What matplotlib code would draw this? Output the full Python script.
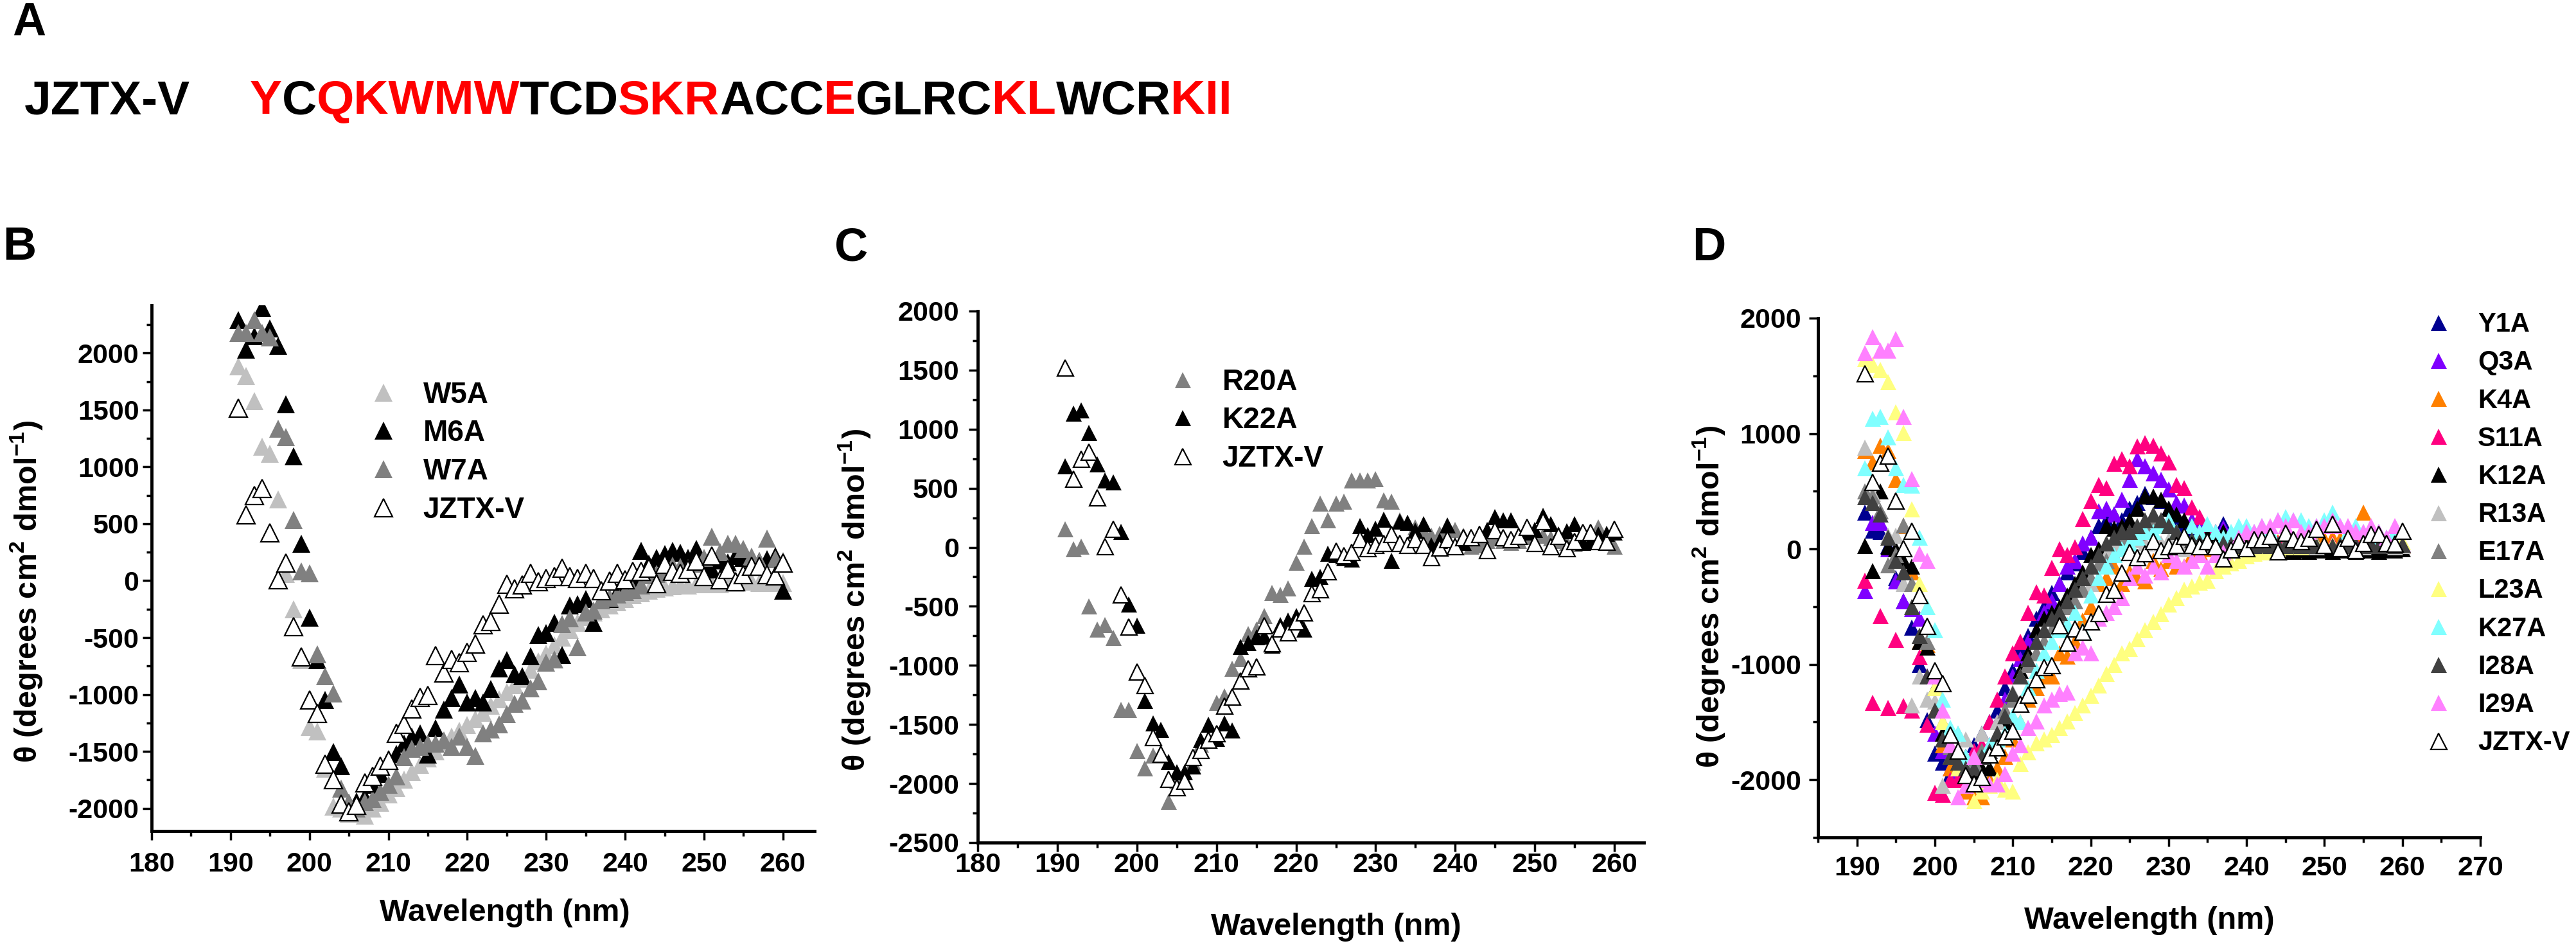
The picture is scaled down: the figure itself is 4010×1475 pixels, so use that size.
import numpy as np
import matplotlib
matplotlib.use('Agg')
import matplotlib.pyplot as plt
from matplotlib.ticker import MultipleLocator
from matplotlib.font_manager import FontProperties, findfont, get_font

plt.rcParams['font.family'] = ['Liberation Sans', 'DejaVu Sans']
plt.rcParams['font.weight'] = 'bold'
plt.rcParams['axes.unicode_minus'] = False
plt.rcParams['mathtext.fontset'] = 'custom'
plt.rcParams['mathtext.rm'] = 'Liberation Sans:bold'
plt.rcParams['mathtext.bf'] = 'Liberation Sans:bold'
plt.rcParams['mathtext.it'] = 'Liberation Sans:bold'

# ---------------- data ----------------
wavelength = list(range(191, 261))  # nm

JZTX_V = [1519, 581, 747, 808, 420, 6, 157, -402, -669, -1050,
          -1165, -1610, -1749, -1961, -2030, -1976, -1779, -1719, -1628, -1576,
          -1340, -1265, -1129, -1023, -1008, -660, -811, -690, -720, -630,
          -554, -387, -357, -206, -30, -70, -39, 67, -9, 21,
          36, 112, 36, 21, 67, 21, -85, -3, 67, 6,
          82, 82, 112, -24, 142, 82, 67, 97, 172, 36,
          218, 6, 97, -9, 51, 127, 127, 51, 45, 157]

# panel B
W5A = [1882, 1800, 1579, 1177, 1116, 717, 60, -251, -700, -1286,
       -1325, -1650, -1985, -2000, -2050, -2050, -2066, -2000, -1950, -1880,
       -1820, -1750, -1680, -1620, -1560, -1500, -1420, -1370, -1320, -1270,
       -1220, -1160, -1100, -1040, -980, -920, -860, -780, -710, -640,
       -570, -500, -430, -370, -320, -280, -250, -220, -190, -160,
       -130, -110, -90, -70, -60, -50, -40, -40, -30, -30,
       -20, -30, -20, -20, -10, -10, -20, -10, -20, -20]
M6A = [2290, 2033, 2150, 2400, 2215, 2063, 1549, 1095, 324, -327,
       -700, -1045, -1507, -1628, -1950, -1940, -1900, -1795, -1700, -1567,
       -1520, -1430, -1370, -1340, -1530, -1294, -1133, -1032, -911, -1073,
       -1032, -1073, -952, -770, -700, -820, -840, -665, -480, -460,
       -370, -655, -220, -206, -160, -370, -170, -160, -100, -60,
       20, 260, 150, 200, 233, 263, 248, 200, 278, 150,
       100, 180, 160, 220, 200, 150, 170, 190, 218, -85]
W7A = [2175, 2175, 2290, 2175, 2140, 1337, 1262, 536, 82, 67,
       -644, -841, -992, -1825, -1950, -2000, -1946, -1915, -1855, -1794,
       -1719, -1552, -1477, -1460, -1431, -1431, -1401, -1461, -1370, -1461,
       -1537, -1340, -1310, -1265, -1174, -1083, -1053, -947, -886, -720,
       -690, -380, -330, -584, -280, -260, -170, -150, -120, -100,
       -80, -40, 50, 60, 80, 130, 120, 110, 150, 200,
       384, 250, 324, 324, 278, 210, 170, 369, 190, 170]

# panel C
R20A = [154, -13, 7, -498, -693, -654, -763, -1373, -1373, -1723,
        -1871, -1762, -1762, -2150, -1976, -1957, -1820, -1670, -1627, -1316,
        -1257, -1024, -946, -733, -693, -577, -383, -402, -343, -130,
        7, 181, 375, 231, 375, 387, 569, 569, 569, 581,
        400, 390, 230, 210, 170, 140, 100, 120, 160, 150,
        100, 10, 20, 60, 80, 60, 40, 60, 90, 110,
        100, 80, 60, 40, 30, 40, 60, 170, 80, 10]
K22A = [690, 1134, 1161, 970, 706, 570, 551, 135, -479, -662,
        -1296, -1490, -1540, -1812, -1900, -1900, -1852, -1627, -1498, -1618,
        -1490, -1548, -841, -810, -760, -751, -829, -654, -615, -577,
        -693, -266, -247, -52, -60, -91, -102, 181, 104, 162,
        239, -110, 220, 208, 143, 201, 20, 60, 190, 20,
        40, 90, 120, 150, 260, 230, 230, 100, 130, 150,
        270, 200, 110, 140, 200, 40, 50, 110, 120, 130]

# panel D
Y1A = [320, 160, 150, 30, -250, -450, -680, -1000, -1480, -1770,
       -1850, -1950, -1900, -1800, -1700, -1600, -1500, -1400, -1200, -1050,
       -850, -750, -600, -500, -380, -300, -200, -120, -20, 100,
       200, 250, 300, 250, 350, 400, 480, 450, 420, 350,
       250, 200, 150, 100, 80, 60, 220, 100, 60, 40,
       30, 20, 40, 30, 20, 40, 30, 20, 40, 30,
       20, 40, 30, 20, 40, 30, 20, 30, 40, 30]
Q3A = [-360, 230, 230, 0, -280, -450, -520, -600, -1100, -1600,
       -1750, -1900, -1950, -1950, -1850, -1800, -1700, -1500, -1300, -1100,
       -950, -800, -700, -550, -450, -300, -150, -100, 50, 100,
       330, 350, 300, 430, 600, 780, 720, 660, 600, 520,
       400, 380, 250, 200, 150, 100, 185, 100, 80, 60,
       50, 60, 40, 50, 60, 40, 50, 60, 50, 40,
       50, 60, 40, 50, 60, 50, 40, 60, 50, 40]
K4A = [850, 750, 900, 850, 600, 200, -200, -800, -830, -1400,
       -1700, -1900, -2000, -2100, -2150, -2150, -2000, -1900, -1800, -1650,
       -1500, -1300, -1200, -1100, -1100, -900, -930, -800, -620, -500,
       -300, -250, -150, -300, -200, -250, -280, -100, -170, -100,
       -150, -150, -50, -30, 0, 50, 60, 40, 50, 60,
       80, 70, 90, 60, 80, 70, 90, 80, 100, 90,
       100, 90, 120, 110, 320, 100, 80, 60, 40, 30]
S11A = [-270, -1330, -580, -1375, -786, -1360, -1400, -933, -1520, -2110,
        -2125, -2000, -2000, -1900, -1750, -1700, -1500, -1300, -1100, -900,
        -800, -550, -370, -400, -160, 0, -50, 20, 260, 420,
        560, 530, 740, 780, 720, 890, 920, 900, 830, 750,
        560, 530, 360, 280, 200, 150, 120, 100, 80, 60,
        50, 60, 40, 50, 60, 40, 50, 60, 50, 40,
        50, 40, 60, 50, 40, 50, 60, 40, 50, 40]
K12A = [30, -190, 500, 20, 0, -100, -150, -800, -850, -1200,
        -1600, -1800, -1850, -1950, -1950, -1900, -1900, -1700, -1500, -1300,
        -1050, -900, -700, -600, -550, -500, -400, -300, -200, -50,
        0, 200, 180, 200, 250, 350, 460, 460, 430, 350,
        300, 250, 200, 150, 120, 100, 150, 130, 50, 0,
        -10, -20, -10, -20, -10, -20, -10, -20, -10, -10,
        -20, -10, -10, -20, -10, -10, -20, -10, -10, 0]
R13A = [880, 480, 330, 120, 120, -300, -1350, -1100, -1300, -1320,
        -2050, -1800, -1600, -1650, -1900, -1600, -1700, -1500, -1400, -1240,
        -1100, -1000, -900, -800, -700, -650, -500, -450, -350, -300,
        -150, -50, 0, 50, 20, 80, 50, 60, 50, 80,
        60, 0, 20, 30, 20, 30, 20, 30, 20, 30,
        20, 30, 20, 30, 40, 30, 20, 30, 20, 30,
        40, 30, 20, 30, 20, 30, 40, 30, 20, 30]
E17A = [500, 455, 330, -141, -50, 205, -300, -749, -800, -1200,
        -1500, -1713, -1900, -1800, -1850, -1750, -1750, -1600, -1400, -1300,
        -1100, -1000, -900, -800, -700, -600, -500, -450, -350, -250,
        -130, -100, -50, 100, 120, 145, 200, 272, 250, 200,
        150, 100, 80, 60, 50, 40, 50, 40, 30, 40,
        50, 40, 30, 40, 50, 40, 30, 40, 50, 40,
        30, 40, 50, 40, 30, 40, 50, 40, 30, 40]
L23A = [1650, 1600, 1554, 1451, 1186, 1010, 347, -300, -500, -1200,
        -1500, -1700, -1900, -2050, -2180, -2100, -2050, -2000, -2080, -2100,
        -1860, -1760, -1680, -1650, -1610, -1550, -1490, -1420, -1350, -1270,
        -1180, -1080, -1000, -900, -860, -780, -700, -630, -560, -480,
        -420, -350, -320, -290, -270, -190, -150, -120, -100, -60,
        -40, -30, -10, 0, 20, 30, 20, 30, 40, 30,
        40, 40, 50, 30, 40, 60, 50, 40, 50, 60]
K27A = [700, 1130, 1150, 970, 700, 560, 550, 100, -500, -700,
        -1300, -1550, -1600, -1800, -1900, -1800, -1700, -1650, -1600, -1450,
        -1500, -1200, -1050, -900, -800, -700, -650, -550, -700, -400,
        -250, -150, -50, 0, 50, 100, 150, 150, 200, 250,
        150, 100, 200, 150, 220, 150, 100, 150, 200, 200,
        150, 200, 150, 250, 280, 250, 250, 200, 200, 250,
        320, 200, 150, 200, 150, 100, 150, 100, 150, 150]
I28A = [450, 400, 300, 100, -100, -200, -500, -750, -1100, -1400,
        -1650, -1800, -1850, -1900, -1900, -1800, -1750, -1600, -1450, -1250,
        -1100, -950, -800, -700, -600, -550, -450, -350, -250, -150,
        -50, 50, 100, 150, 150, 200, 250, 300, 250, 200,
        150, 100, 80, 60, 50, 40, 50, 40, 30, 40,
        30, 40, 30, 40, 30, 40, 30, 40, 30, 40,
        30, 40, 30, 40, 30, 40, 30, 40, 30, 40]
I29A = [1700, 1840, 1720, 1720, 1820, 1150, 610, -40, -100, -1100,
        -1400, -1700, -2150, -2050, -1800, -2000, -2040, -2040, -1950, -1770,
        -1700, -1550, -1490, -1350, -1300, -1250, -1240, -900, -850, -900,
        -600, -550, -500, -420, -250, -150, -230, -150, -200, -50,
        -100, -150, -100, -50, -150, -50, -30, 0, 100, 150,
        150, 200, 200, 250, 200, 250, 150, 150, 200, 200,
        250, 200, 200, 150, 150, 200, 150, 100, 200, 150]

panelB_series = [('W5A', W5A, '#C0C0C0'), ('M6A', M6A, '#000000'),
                 ('W7A', W7A, '#808080'), ('JZTX-V', JZTX_V, None)]
panelC_series = [('R20A', R20A, '#808080'), ('K22A', K22A, '#000000'),
                 ('JZTX-V', JZTX_V, None)]
panelD_series = [('Y1A', Y1A, '#000090'), ('Q3A', Q3A, '#8000FF'),
                 ('K4A', K4A, '#FF8000'), ('S11A', S11A, '#FF0080'),
                 ('K12A', K12A, '#000000'), ('R13A', R13A, '#C0C0C0'),
                 ('E17A', E17A, '#808080'), ('L23A', L23A, '#FFFF80'),
                 ('K27A', K27A, '#80FFFF'), ('I28A', I28A, '#404040'),
                 ('I29A', I29A, '#FF80FF'), ('JZTX-V', JZTX_V, None)]

sequence_segments = [('Y', 'red'), ('C', 'black'), ('QKWMW', 'red'),
                     ('TCD', 'black'), ('SKR', 'red'), ('ACC', 'black'),
                     ('E', 'red'), ('GLRC', 'black'), ('KL', 'red'),
                     ('WCR', 'black'), ('KII', 'red')]

# ---------------- figure ----------------
W, H = 4010, 1475
fig = plt.figure(figsize=(W / 100, H / 100), dpi=100)


def px_axes(left, top, right, bottom):
    return fig.add_axes([left / W, 1 - bottom / H, (right - left) / W, (bottom - top) / H])


def style(ax, xlim, ylim, xmaj, xmin, ymaj, ymin, xpad, ypad):
    ax.set_xlim(*xlim)
    ax.set_ylim(*ylim)
    ax.xaxis.set_major_locator(MultipleLocator(xmaj))
    ax.xaxis.set_minor_locator(MultipleLocator(xmin))
    ax.yaxis.set_major_locator(MultipleLocator(ymaj))
    ax.yaxis.set_minor_locator(MultipleLocator(ymin))
    for s in ['top', 'right']:
        ax.spines[s].set_visible(False)
    for s in ['left', 'bottom']:
        ax.spines[s].set_linewidth(3.5)
    ax.tick_params(which='major', direction='out', length=10, width=2.5, labelsize=31)
    ax.tick_params(which='minor', direction='out', length=5.5, width=2.5)
    ax.tick_params(axis='x', which='major', pad=xpad)
    ax.tick_params(axis='y', which='major', pad=ypad)
    for lab in ax.get_xticklabels() + ax.get_yticklabels():
        lab.set_fontweight('bold')


def draw_series(ax, series, ms):
    for name, vals, col in series:
        if col is None:
            ax.plot(wavelength, vals, linestyle='none', marker='^', ms=ms,
                    mfc='white', mec='black', mew=1.6, label=name)
        else:
            ax.plot(wavelength, vals, linestyle='none', marker='^', ms=ms,
                    mfc=col, mec=col, mew=0, label=name)


def labels(ax, xl, yl, xfs=35, yfs=35):
    ax.set_xlabel('Wavelength (nm)', fontsize=xfs, fontweight='bold')
    ax.set_ylabel(r'θ (degrees cm$^{\mathbf{2}}$ dmol$^{\mathbf{-1}}$)', fontsize=yfs, fontweight='bold')
    ax.xaxis.set_label_coords(*xl)
    ax.yaxis.set_label_coords(*yl)
    ax.xaxis.label.set_va('center')
    ax.yaxis.label.set_va('center')


ylab = r'θ (degrees cm$^{\mathbf{2}}$ dmol$^{\mathbf{-1}}$)'

# Panel B
axB = px_axes(236, 475, 1268, 1293)
draw_series(axB, panelB_series, 20)
style(axB, (180, 264), (-2200, 2420), 10, 5, 500, 250, xpad=13, ypad=4)
labels(axB, (0.533, -0.156), (-0.189, 0.456))
axB.legend(loc='upper left', bbox_to_anchor=(0.3275, 0.856), frameon=False,
           borderpad=0, borderaxespad=0, handlelength=1.0, handletextpad=0.85,
           labelspacing=0.34, prop={'size': 33, 'weight': 'bold'}, numpoints=1)

# Panel C
axC = px_axes(1522, 484, 2559, 1311)
draw_series(axC, panelC_series, 18)
style(axC, (180, 263.7), (-2500, 2000), 10, 5, 500, 250, xpad=1, ypad=11)
labels(axC, (0.538, -0.159), (-0.185, 0.457))
axC.legend(loc='upper left', bbox_to_anchor=(0.2854, 0.8925), frameon=False,
           borderpad=0, borderaxespad=0, handlelength=1.0, handletextpad=0.85,
           labelspacing=0.34, prop={'size': 33, 'weight': 'bold'}, numpoints=1)

# Panel D
axD = px_axes(2830, 495, 3861, 1303)
draw_series(axD, panelD_series, 18)
style(axD, (185, 270), (-2500, 2000), 10, 5, 1000, 500, xpad=10, ypad=8.5)
labels(axD, (0.5, -0.160), (-0.165, 0.463))
axD.legend(loc='upper left', bbox_to_anchor=(0.9166, 1.012), frameon=False,
           borderpad=0, borderaxespad=0, handlelength=1.0, handletextpad=0.97,
           labelspacing=0.46, prop={'size': 30, 'weight': 'bold'}, numpoints=1)

# panel letters
for letter, x, base in [('A', 19, 55), ('B', 4, 404), ('C', 1299, 405), ('D', 2634, 405)]:
    fig.text(x / W, 1 - base / H, letter, fontsize=52, fontweight='bold',
             ha='left', va='baseline')

# sequence line
seq_fs = 54
fig.text(38 / W, 1 - 177 / H, 'JZTX-V', fontsize=seq_fs, fontweight='bold',
         ha='left', va='baseline')
fp = FontProperties(family='Liberation Sans', weight='bold', size=seq_fs)
font = get_font(findfont(fp))
font.set_size(seq_fs, 100)
full = ''.join(s for s, _ in sequence_segments)
advs = [font.load_char(ord(c)).linearHoriAdvance / 65536 for c in full]
renderer = fig.canvas.get_renderer()
tmp = fig.text(0, 0, full, fontproperties=fp)
wfull = tmp.get_window_extent(renderer).width
tmp.remove()
scale = wfull / sum(advs)
x0 = 389.0
cum = 0.0
idx = 0
for seg, col in sequence_segments:
    fig.text((x0 + cum * scale) / W, 1 - 177 / H, seg, fontproperties=fp,
             color=col, ha='left', va='baseline')
    for c in seg:
        cum += advs[idx]
        idx += 1

fig.savefig('out.png', dpi=100)
